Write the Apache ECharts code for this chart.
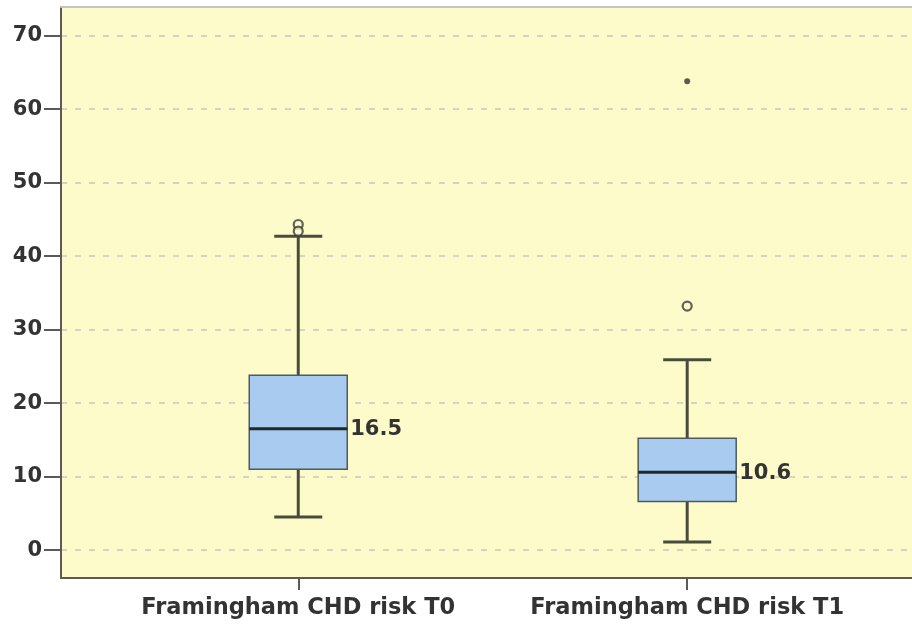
<!DOCTYPE html>
<html>
<head>
<meta charset="utf-8">
<script src="https://cdn.jsdelivr.net/npm/echarts@6/dist/echarts.min.js"></script>
<style>
html,body{margin:0;padding:0;background:#fff;}
#chart{width:912px;height:626px;}
</style>
</head>
<body>
<div id="chart"></div>
<script>
// ---- data ----
const categories = ['Framingham CHD risk T0', 'Framingham CHD risk T1'];
const positions = [1, 2];
const whiskerLow = [4.5, 1.1];
const q1 = [11.0, 6.6];
const median = [16.5, 10.6];
const q3 = [23.8, 15.2];
const whiskerHigh = [42.7, 25.9];
const medianLabels = ['16.5', '10.6'];
const outliers = [[1, 44.3], [1, 43.4], [2, 33.2]];
const extremes = [[2, 63.8]];
const yTicks = [0, 10, 20, 30, 40, 50, 60, 70];

const boxData = positions.map((p, i) => [p, whiskerLow[i], q1[i], median[i], q3[i], whiskerHigh[i], medianLabels[i]]);

const chart = echarts.init(document.getElementById('chart'));
const FONT = 'DejaVu Sans';
const LINE = '#4b4b3c';

function renderBox(params, api) {
  const x = api.value(0);
  const pLo = api.coord([x, api.value(1)]);
  const pQ1 = api.coord([x, api.value(2)]);
  const pMed = api.coord([x, api.value(3)]);
  const pQ3 = api.coord([x, api.value(4)]);
  const pHi = api.coord([x, api.value(5)]);
  const cx = pMed[0];
  const half = 49, cap = 24;
  const lineStyle = { stroke: LINE, lineWidth: 3 };
  return {
    type: 'group',
    children: [
      { type: 'line', shape: { x1: cx, y1: pQ3[1], x2: cx, y2: pHi[1] }, style: lineStyle },
      { type: 'line', shape: { x1: cx, y1: pLo[1], x2: cx, y2: pQ1[1] }, style: lineStyle },
      { type: 'line', shape: { x1: cx - cap, y1: pHi[1], x2: cx + cap, y2: pHi[1] }, style: lineStyle },
      { type: 'line', shape: { x1: cx - cap, y1: pLo[1], x2: cx + cap, y2: pLo[1] }, style: lineStyle },
      { type: 'rect', shape: { x: cx - half, y: pQ3[1], width: half * 2, height: pQ1[1] - pQ3[1] },
        style: { fill: '#a8cbef', stroke: '#4f5a5a', lineWidth: 1.5 } },
      { type: 'line', shape: { x1: cx - half, y1: pMed[1], x2: cx + half, y2: pMed[1] },
        style: { stroke: '#1f2a2a', lineWidth: 3 } },
      { type: 'text', x: cx + half + 3, y: pMed[1] + 1,
        style: { text: api.value(6), fill: '#333', font: 'bold 21px "DejaVu Sans"', verticalAlign: 'middle', align: 'left' } }
    ]
  };
}

const option = {
  backgroundColor: '#ffffff',
  animation: false,
  grid: { left: 61, top: 7, right: 0, bottom: 48, show: true, backgroundColor: '#fdfbca', borderWidth: 0 },
  xAxis: [{
    type: 'value', min: 0.39, max: 2.578,
    axisLine: { show: true, onZero: false, lineStyle: { color: '#5a5a5a', width: 2 } },
    axisTick: { show: true, customValues: positions, length: 12, lineStyle: { color: '#5a5a5a', width: 2 } },
    axisLabel: { customValues: positions, formatter: v => categories[Math.round(v) - 1] || '',
      color: '#333', fontFamily: FONT, fontWeight: 'bold', fontSize: 22.5, margin: 19 },
    splitLine: { show: false }
  }, {
    type: 'value', position: 'top', min: 0.39, max: 2.578,
    axisLine: { show: true, onZero: false, lineStyle: { color: '#c4c4c4', width: 2 } },
    axisTick: { show: false }, axisLabel: { show: false }, splitLine: { show: false }
  }],
  yAxis: {
    type: 'value', min: -3.8, max: 73.9,
    axisLine: { show: true, onZero: false, lineStyle: { color: '#5a5a5a', width: 2 } },
    axisTick: { show: true, customValues: yTicks, length: 17, lineStyle: { color: '#5a5a5a', width: 2 } },
    axisLabel: { customValues: yTicks, color: '#333', fontFamily: FONT, fontWeight: 'bold', fontSize: 21, margin: 19 },
    splitLine: { show: true, lineStyle: { color: '#c9c8b4', width: 1.5, type: [6, 8] } }
  },
  series: [
    {
      type: 'custom', renderItem: renderBox, data: boxData,
      encode: { x: 0, y: [1, 2, 3, 4, 5] }, z: 3
    },
    {
      type: 'scatter', data: outliers, symbol: 'circle', symbolSize: 9, z: 4,
      itemStyle: { color: '#fdfbca', borderColor: '#3a3a3a', borderWidth: 2.2 }
    },
    {
      type: 'scatter', data: extremes, symbol: 'circle', symbolSize: 6, z: 4,
      itemStyle: { color: '#333' }
    }
  ]
};
chart.setOption(option);
</script>
</body>
</html>
